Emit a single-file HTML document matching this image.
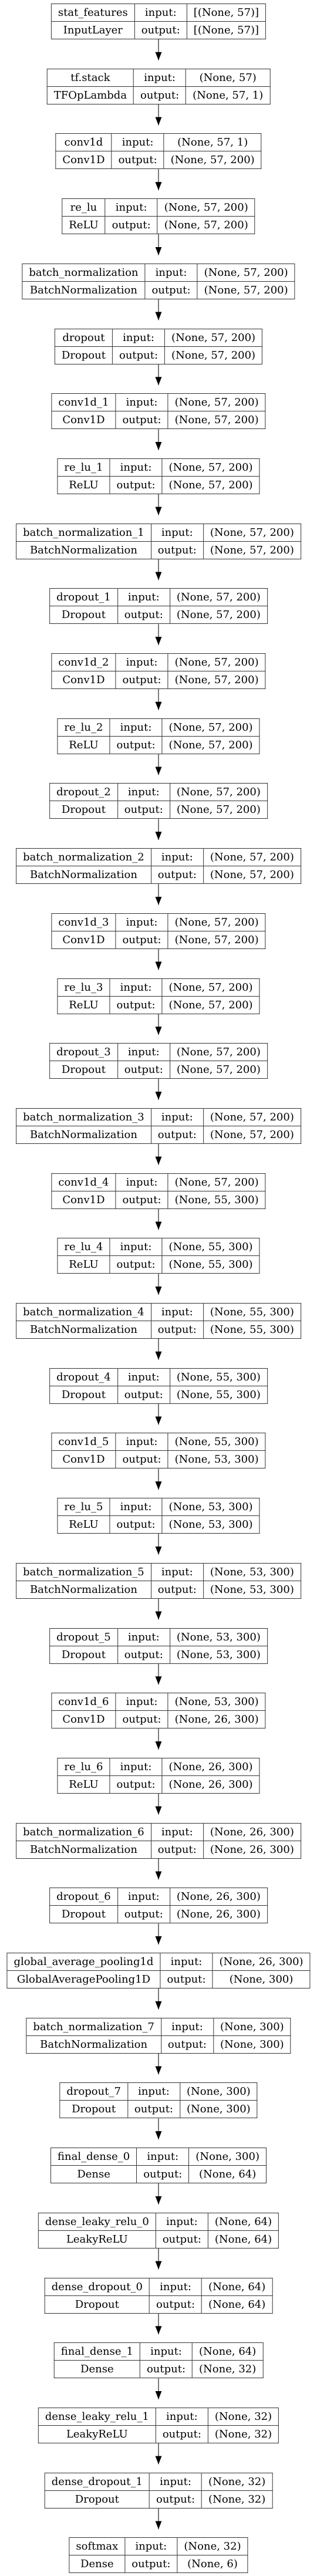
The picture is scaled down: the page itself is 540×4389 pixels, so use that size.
<!DOCTYPE html>
<html><head><meta charset="utf-8"><style>
html,body{margin:0;padding:0;background:#fff;}
body{width:540px;height:4389px;position:relative;overflow:hidden;font-family:"DejaVu Serif","Liberation Serif",serif;}
.n{position:absolute;left:270px;transform:translateX(-50%);}
table{border-collapse:collapse;border:1.4px solid #333;background:#fff;}
td{border:1.3px solid #333;height:29px;padding:0 11px;text-align:center;font-size:18px;line-height:29px;white-space:nowrap;color:#000;}
svg{position:absolute;left:0;top:0;}
</style></head><body>
<svg width="540" height="4389">
<defs><marker id="a" markerWidth="11" markerHeight="14" refX="5.5" refY="14" orient="0" markerUnits="userSpaceOnUse"><path d="M0,0 L11,0 L5.5,14 Z" fill="#000"/></marker></defs>
<g stroke="#444" stroke-width="1.4" fill="none">
<line x1="270" y1="67" x2="270" y2="102.7" marker-end="url(#a)"/>
<line x1="270" y1="177.7" x2="270" y2="213.4" marker-end="url(#a)"/>
<line x1="270" y1="288.4" x2="270" y2="324.1" marker-end="url(#a)"/>
<line x1="270" y1="399.1" x2="270" y2="434.8" marker-end="url(#a)"/>
<line x1="270" y1="509.8" x2="270" y2="545.5" marker-end="url(#a)"/>
<line x1="270" y1="620.5" x2="270" y2="656.2" marker-end="url(#a)"/>
<line x1="270" y1="731.2" x2="270" y2="766.9" marker-end="url(#a)"/>
<line x1="270" y1="841.9" x2="270" y2="877.6" marker-end="url(#a)"/>
<line x1="270" y1="952.6" x2="270" y2="988.3" marker-end="url(#a)"/>
<line x1="270" y1="1063.3" x2="270" y2="1099" marker-end="url(#a)"/>
<line x1="270" y1="1174" x2="270" y2="1209.7" marker-end="url(#a)"/>
<line x1="270" y1="1284.7" x2="270" y2="1320.4" marker-end="url(#a)"/>
<line x1="270" y1="1395.4" x2="270" y2="1431.1" marker-end="url(#a)"/>
<line x1="270" y1="1506.1" x2="270" y2="1541.8" marker-end="url(#a)"/>
<line x1="270" y1="1616.8" x2="270" y2="1652.5" marker-end="url(#a)"/>
<line x1="270" y1="1727.5" x2="270" y2="1763.2" marker-end="url(#a)"/>
<line x1="270" y1="1838.2" x2="270" y2="1873.9" marker-end="url(#a)"/>
<line x1="270" y1="1948.9" x2="270" y2="1984.6" marker-end="url(#a)"/>
<line x1="270" y1="2059.6" x2="270" y2="2095.3" marker-end="url(#a)"/>
<line x1="270" y1="2170.3" x2="270" y2="2206" marker-end="url(#a)"/>
<line x1="270" y1="2281" x2="270" y2="2316.7" marker-end="url(#a)"/>
<line x1="270" y1="2391.7" x2="270" y2="2427.4" marker-end="url(#a)"/>
<line x1="270" y1="2502.4" x2="270" y2="2538.1" marker-end="url(#a)"/>
<line x1="270" y1="2613.1" x2="270" y2="2648.8" marker-end="url(#a)"/>
<line x1="270" y1="2723.8" x2="270" y2="2759.5" marker-end="url(#a)"/>
<line x1="270" y1="2834.5" x2="270" y2="2870.2" marker-end="url(#a)"/>
<line x1="270" y1="2945.2" x2="270" y2="2980.9" marker-end="url(#a)"/>
<line x1="270" y1="3055.9" x2="270" y2="3091.6" marker-end="url(#a)"/>
<line x1="270" y1="3166.6" x2="270" y2="3202.3" marker-end="url(#a)"/>
<line x1="270" y1="3277.3" x2="270" y2="3313" marker-end="url(#a)"/>
<line x1="270" y1="3388" x2="270" y2="3423.7" marker-end="url(#a)"/>
<line x1="270" y1="3498.7" x2="270" y2="3534.4" marker-end="url(#a)"/>
<line x1="270" y1="3609.4" x2="270" y2="3645.1" marker-end="url(#a)"/>
<line x1="270" y1="3720.1" x2="270" y2="3755.8" marker-end="url(#a)"/>
<line x1="270" y1="3830.8" x2="270" y2="3866.5" marker-end="url(#a)"/>
<line x1="270" y1="3941.5" x2="270" y2="3977.2" marker-end="url(#a)"/>
<line x1="270" y1="4052.2" x2="270" y2="4087.9" marker-end="url(#a)"/>
<line x1="270" y1="4162.9" x2="270" y2="4198.6" marker-end="url(#a)"/>
<line x1="270" y1="4273.6" x2="270" y2="4309.3" marker-end="url(#a)"/>
</g></svg>

<div class="n" style="top:6px"><table><tr><td>stat_features</td><td>input:</td><td>[(None, 57)]</td></tr><tr><td>InputLayer</td><td>output:</td><td>[(None, 57)]</td></tr></table></div>
<div class="n" style="top:116.7px"><table><tr><td>tf.stack</td><td>input:</td><td>(None, 57)</td></tr><tr><td>TFOpLambda</td><td>output:</td><td>(None, 57, 1)</td></tr></table></div>
<div class="n" style="top:227.4px"><table><tr><td>conv1d</td><td>input:</td><td>(None, 57, 1)</td></tr><tr><td>Conv1D</td><td>output:</td><td>(None, 57, 200)</td></tr></table></div>
<div class="n" style="top:338.1px"><table><tr><td>re_lu</td><td>input:</td><td>(None, 57, 200)</td></tr><tr><td>ReLU</td><td>output:</td><td>(None, 57, 200)</td></tr></table></div>
<div class="n" style="top:448.8px"><table><tr><td>batch_normalization</td><td>input:</td><td>(None, 57, 200)</td></tr><tr><td>BatchNormalization</td><td>output:</td><td>(None, 57, 200)</td></tr></table></div>
<div class="n" style="top:559.5px"><table><tr><td>dropout</td><td>input:</td><td>(None, 57, 200)</td></tr><tr><td>Dropout</td><td>output:</td><td>(None, 57, 200)</td></tr></table></div>
<div class="n" style="top:670.2px"><table><tr><td>conv1d_1</td><td>input:</td><td>(None, 57, 200)</td></tr><tr><td>Conv1D</td><td>output:</td><td>(None, 57, 200)</td></tr></table></div>
<div class="n" style="top:780.9px"><table><tr><td>re_lu_1</td><td>input:</td><td>(None, 57, 200)</td></tr><tr><td>ReLU</td><td>output:</td><td>(None, 57, 200)</td></tr></table></div>
<div class="n" style="top:891.6px"><table><tr><td>batch_normalization_1</td><td>input:</td><td>(None, 57, 200)</td></tr><tr><td>BatchNormalization</td><td>output:</td><td>(None, 57, 200)</td></tr></table></div>
<div class="n" style="top:1002.3px"><table><tr><td>dropout_1</td><td>input:</td><td>(None, 57, 200)</td></tr><tr><td>Dropout</td><td>output:</td><td>(None, 57, 200)</td></tr></table></div>
<div class="n" style="top:1113px"><table><tr><td>conv1d_2</td><td>input:</td><td>(None, 57, 200)</td></tr><tr><td>Conv1D</td><td>output:</td><td>(None, 57, 200)</td></tr></table></div>
<div class="n" style="top:1223.7px"><table><tr><td>re_lu_2</td><td>input:</td><td>(None, 57, 200)</td></tr><tr><td>ReLU</td><td>output:</td><td>(None, 57, 200)</td></tr></table></div>
<div class="n" style="top:1334.4px"><table><tr><td>dropout_2</td><td>input:</td><td>(None, 57, 200)</td></tr><tr><td>Dropout</td><td>output:</td><td>(None, 57, 200)</td></tr></table></div>
<div class="n" style="top:1445.1px"><table><tr><td>batch_normalization_2</td><td>input:</td><td>(None, 57, 200)</td></tr><tr><td>BatchNormalization</td><td>output:</td><td>(None, 57, 200)</td></tr></table></div>
<div class="n" style="top:1555.8px"><table><tr><td>conv1d_3</td><td>input:</td><td>(None, 57, 200)</td></tr><tr><td>Conv1D</td><td>output:</td><td>(None, 57, 200)</td></tr></table></div>
<div class="n" style="top:1666.5px"><table><tr><td>re_lu_3</td><td>input:</td><td>(None, 57, 200)</td></tr><tr><td>ReLU</td><td>output:</td><td>(None, 57, 200)</td></tr></table></div>
<div class="n" style="top:1777.2px"><table><tr><td>dropout_3</td><td>input:</td><td>(None, 57, 200)</td></tr><tr><td>Dropout</td><td>output:</td><td>(None, 57, 200)</td></tr></table></div>
<div class="n" style="top:1887.9px"><table><tr><td>batch_normalization_3</td><td>input:</td><td>(None, 57, 200)</td></tr><tr><td>BatchNormalization</td><td>output:</td><td>(None, 57, 200)</td></tr></table></div>
<div class="n" style="top:1998.6px"><table><tr><td>conv1d_4</td><td>input:</td><td>(None, 57, 200)</td></tr><tr><td>Conv1D</td><td>output:</td><td>(None, 55, 300)</td></tr></table></div>
<div class="n" style="top:2109.3px"><table><tr><td>re_lu_4</td><td>input:</td><td>(None, 55, 300)</td></tr><tr><td>ReLU</td><td>output:</td><td>(None, 55, 300)</td></tr></table></div>
<div class="n" style="top:2220px"><table><tr><td>batch_normalization_4</td><td>input:</td><td>(None, 55, 300)</td></tr><tr><td>BatchNormalization</td><td>output:</td><td>(None, 55, 300)</td></tr></table></div>
<div class="n" style="top:2330.7px"><table><tr><td>dropout_4</td><td>input:</td><td>(None, 55, 300)</td></tr><tr><td>Dropout</td><td>output:</td><td>(None, 55, 300)</td></tr></table></div>
<div class="n" style="top:2441.4px"><table><tr><td>conv1d_5</td><td>input:</td><td>(None, 55, 300)</td></tr><tr><td>Conv1D</td><td>output:</td><td>(None, 53, 300)</td></tr></table></div>
<div class="n" style="top:2552.1px"><table><tr><td>re_lu_5</td><td>input:</td><td>(None, 53, 300)</td></tr><tr><td>ReLU</td><td>output:</td><td>(None, 53, 300)</td></tr></table></div>
<div class="n" style="top:2662.8px"><table><tr><td>batch_normalization_5</td><td>input:</td><td>(None, 53, 300)</td></tr><tr><td>BatchNormalization</td><td>output:</td><td>(None, 53, 300)</td></tr></table></div>
<div class="n" style="top:2773.5px"><table><tr><td>dropout_5</td><td>input:</td><td>(None, 53, 300)</td></tr><tr><td>Dropout</td><td>output:</td><td>(None, 53, 300)</td></tr></table></div>
<div class="n" style="top:2884.2px"><table><tr><td>conv1d_6</td><td>input:</td><td>(None, 53, 300)</td></tr><tr><td>Conv1D</td><td>output:</td><td>(None, 26, 300)</td></tr></table></div>
<div class="n" style="top:2994.9px"><table><tr><td>re_lu_6</td><td>input:</td><td>(None, 26, 300)</td></tr><tr><td>ReLU</td><td>output:</td><td>(None, 26, 300)</td></tr></table></div>
<div class="n" style="top:3105.6px"><table><tr><td>batch_normalization_6</td><td>input:</td><td>(None, 26, 300)</td></tr><tr><td>BatchNormalization</td><td>output:</td><td>(None, 26, 300)</td></tr></table></div>
<div class="n" style="top:3216.3px"><table><tr><td>dropout_6</td><td>input:</td><td>(None, 26, 300)</td></tr><tr><td>Dropout</td><td>output:</td><td>(None, 26, 300)</td></tr></table></div>
<div class="n" style="top:3327px"><table><tr><td>global_average_pooling1d</td><td>input:</td><td>(None, 26, 300)</td></tr><tr><td>GlobalAveragePooling1D</td><td>output:</td><td>(None, 300)</td></tr></table></div>
<div class="n" style="top:3437.7px"><table><tr><td>batch_normalization_7</td><td>input:</td><td>(None, 300)</td></tr><tr><td>BatchNormalization</td><td>output:</td><td>(None, 300)</td></tr></table></div>
<div class="n" style="top:3548.4px"><table><tr><td>dropout_7</td><td>input:</td><td>(None, 300)</td></tr><tr><td>Dropout</td><td>output:</td><td>(None, 300)</td></tr></table></div>
<div class="n" style="top:3659.1px"><table><tr><td>final_dense_0</td><td>input:</td><td>(None, 300)</td></tr><tr><td>Dense</td><td>output:</td><td>(None, 64)</td></tr></table></div>
<div class="n" style="top:3769.8px"><table><tr><td>dense_leaky_relu_0</td><td>input:</td><td>(None, 64)</td></tr><tr><td>LeakyReLU</td><td>output:</td><td>(None, 64)</td></tr></table></div>
<div class="n" style="top:3880.5px"><table><tr><td>dense_dropout_0</td><td>input:</td><td>(None, 64)</td></tr><tr><td>Dropout</td><td>output:</td><td>(None, 64)</td></tr></table></div>
<div class="n" style="top:3991.2px"><table><tr><td>final_dense_1</td><td>input:</td><td>(None, 64)</td></tr><tr><td>Dense</td><td>output:</td><td>(None, 32)</td></tr></table></div>
<div class="n" style="top:4101.9px"><table><tr><td>dense_leaky_relu_1</td><td>input:</td><td>(None, 32)</td></tr><tr><td>LeakyReLU</td><td>output:</td><td>(None, 32)</td></tr></table></div>
<div class="n" style="top:4212.6px"><table><tr><td>dense_dropout_1</td><td>input:</td><td>(None, 32)</td></tr><tr><td>Dropout</td><td>output:</td><td>(None, 32)</td></tr></table></div>
<div class="n" style="top:4323.3px"><table><tr><td>softmax</td><td>input:</td><td>(None, 32)</td></tr><tr><td>Dense</td><td>output:</td><td>(None, 6)</td></tr></table></div>
</body></html>
